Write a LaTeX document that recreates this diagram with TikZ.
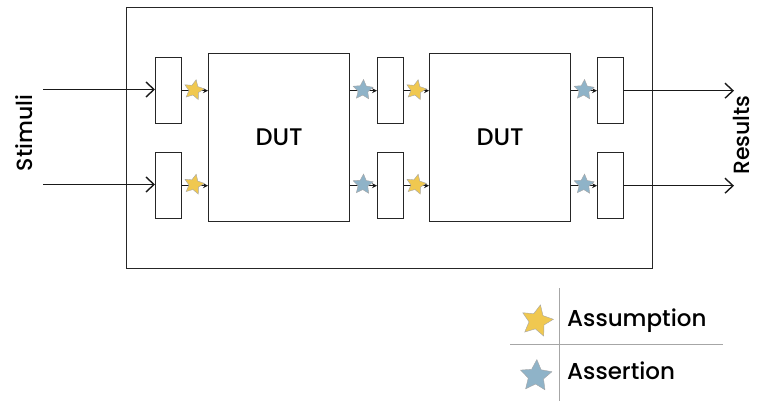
\documentclass[tikz,border=0pt]{standalone}
\usepackage{fontspec}
\setmainfont{Poppins}[UprightFont={* Medium}]
\usetikzlibrary{shapes.geometric,arrows.meta}
\definecolor{staryellow}{HTML}{F0C850}
\definecolor{starblue}{HTML}{8FB3C8}
\begin{document}
\begin{tikzpicture}[x=1pt,y=-1pt,
  box/.style={draw=black!85,line width=1.4pt,fill=white,inner sep=0pt,anchor=north west},
  reg/.style={box,minimum width=26pt,minimum height=66pt},
  dutbox/.style={box,minimum width=141pt,minimum height=168pt,font=\fontsize{24}{29}\selectfont},
  barb/.style={draw=black!90,line width=1.4pt,-{Straight Barb[length=8pt,width=15pt,line width=1.4pt]}},
  link/.style={draw=black!90,line width=1.4pt,-{Stealth[length=5pt,width=5pt]}},
  starbase/.style={star,star points=5,star point ratio=2.05,inner sep=0pt,draw=black!35,line width=0.4pt},
  ystar/.style={starbase,fill=staryellow,minimum size=21pt,shape border rotate=-12},
  bstar/.style={starbase,fill=starblue,minimum size=21pt,shape border rotate=-3},
  lbl/.style={font=\fontsize{22}{27}\selectfont,inner sep=0pt},
  legtext/.style={font=\fontsize{23}{28}\selectfont,inner sep=0pt,anchor=base west},
  legline/.style={draw=black!35,line width=0.8pt}
]
\useasboundingbox (0,0) rectangle (757,401);

% outer frame
\node[box,minimum width=526pt,minimum height=261pt] (frame) at (126,7) {};

% registers and DUTs
\node[reg] (lb1) at (155,57) {};
\node[reg] (lb2) at (155,152) {};
\node[dutbox] (dut1) at (208,53) {DUT};
\node[reg] (mb1) at (377,57) {};
\node[reg] (mb2) at (377,152) {};
\node[dutbox] (dut2) at (429,53) {DUT};
\node[reg] (rb1) at (597,57) {};
\node[reg] (rb2) at (597,152) {};

% inputs and outputs
\coordinate (in1) at (43,89.5);
\coordinate (in2) at (43,184.5);
\coordinate (out1) at (734,90);
\coordinate (out2) at (734,184.5);
\draw[barb] (in1) -- (in1 -| lb1.west);
\draw[barb] (in2) -- (in2 -| lb2.west);
\draw[barb] (rb1.east) -- (rb1.east -| out1);
\draw[barb] (rb2.east) -- (rb2.east -| out2);

% internal links
\draw[link] (lb1.east) -- (lb1.east -| dut1.west);
\draw[link] (lb2.east) -- (lb2.east -| dut1.west);
\draw[link] (dut1.east |- mb1.west) -- (mb1.west);
\draw[link] (dut1.east |- mb2.west) -- (mb2.west);
\draw[link] (mb1.east) -- (mb1.east -| dut2.west);
\draw[link] (mb2.east) -- (mb2.east -| dut2.west);
\draw[link] (dut2.east |- rb1.west) -- (rb1.west);
\draw[link] (dut2.east |- rb2.west) -- (rb2.west);

% stars
\node[ystar] (y1) at (194,90) {};
\node[ystar] (y2) at (194,184.5) {};
\node[bstar] (b1) at (363,90) {};
\node[bstar] (b2) at (363,184.5) {};
\node[ystar] (y3) at (416,90) {};
\node[ystar] (y4) at (416,184.5) {};
\node[bstar] (b3) at (584,90) {};
\node[bstar] (b4) at (584,184.5) {};

% side labels
\node[lbl,rotate=90] (stim) at (24,133) {Stimuli};
\node[lbl,rotate=90] (res) at (741,135) {Results};

% legend
\coordinate (vt) at (559,288);
\coordinate (vb) at (559,401);
\coordinate (hl) at (510,344);
\coordinate (hr) at (723,344);
\draw[legline] (vt) -- (vb);
\draw[legline] (hl) -- (hr);
\node[ystar,minimum size=33pt] (ly) at (537,321) {};
\node[bstar,minimum size=33pt] (lb) at (536,376) {};
\node[legtext] (ta) at (567,326) {Assumption};
\node[legtext] (tb) at (567,379) {Assertion};
\end{tikzpicture}
\end{document}
